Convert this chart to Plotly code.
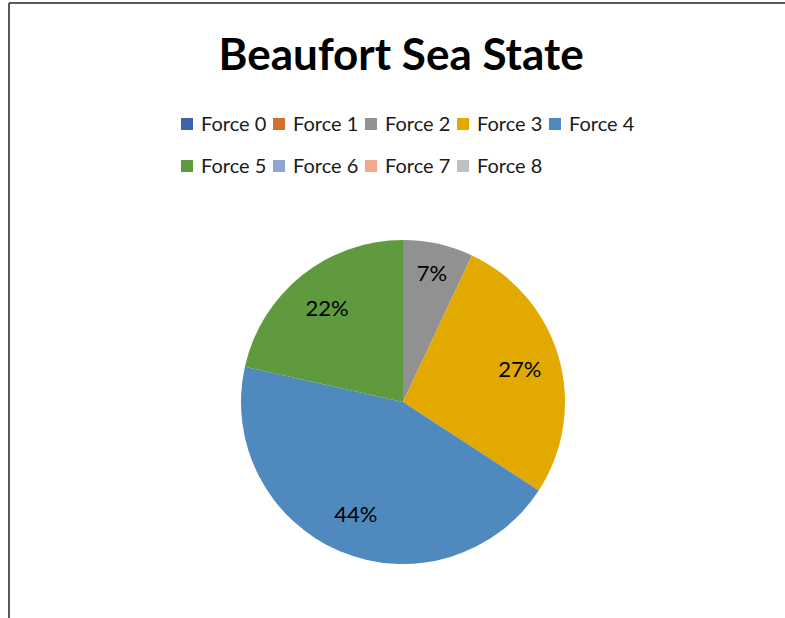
import plotly.graph_objects as go

categories = ["Force 0", "Force 1", "Force 2", "Force 3", "Force 4",
              "Force 5", "Force 6", "Force 7", "Force 8"]
values = [0, 0, 7.0, 27.2, 44.3, 21.5, 0, 0, 0]
colors = ["#3F62A8", "#D3702A", "#919191", "#E2A900", "#4F89BD",
          "#5F9A3E", "#8FA5D6", "#F2A98B", "#BFBFBF"]
title_text = "Beaufort Sea State"
FONT = "Lato"

W, H = 785, 618
cx, cy, R = 403, 402, 162
dom = dict(x=[(cx - R) / W, (cx + R) / W], y=[(H - cy - R) / H, (H - cy + R) / H])

fig = go.Figure()
# coloured slices
fig.add_trace(go.Pie(
    labels=categories, values=values, sort=False, direction="clockwise",
    rotation=0, marker=dict(colors=colors, line=dict(width=0)),
    textinfo="none", showlegend=False, hoverinfo="label+value+percent",
    domain=dom,
))
# percentage labels (transparent ring so labels sit further out)
fig.add_trace(go.Pie(
    labels=categories, values=values, sort=False, direction="clockwise",
    rotation=0, hole=0.5,
    marker=dict(colors=["rgba(0,0,0,0)"] * len(values), line=dict(width=0)),
    texttemplate=["%{percent:.0%}" if v > 0 else "" for v in values],
    textposition="inside", insidetextorientation="horizontal",
    textfont=dict(family=FONT, size=22, color="black"),
    showlegend=False, hoverinfo="skip",
    domain=dom,
))

# legend (two rows, 5 + 4 entries) drawn as squares + labels
per_row = 5
leg_x0, pitch, sq, text_gap = 181, 92, 12, 18
row_y = [124, 166]
shapes = []
annotations = []
for i, name in enumerate(categories):
    r, c = divmod(i, per_row)
    x = leg_x0 + c * pitch
    y = row_y[r]
    shapes.append(dict(type="rect", xref="paper", yref="paper",
                       x0=x / W, x1=(x + sq) / W,
                       y0=1 - (y + sq / 2) / H, y1=1 - (y - sq / 2) / H,
                       fillcolor=colors[i], line=dict(width=0)))
    annotations.append(dict(text=name, xref="paper", yref="paper",
                            x=(x + text_gap) / W, y=1 - (y - 1) / H,
                            xanchor="left", yanchor="middle", showarrow=False,
                            font=dict(family=FONT, size=20, color="#1a1a1a")))

# chart border (top and left)
shapes += [
    dict(type="line", xref="paper", yref="paper", x0=9 / W, x1=1, y0=1 - 3 / H, y1=1 - 3 / H,
         line=dict(color="#595959", width=2)),
    dict(type="line", xref="paper", yref="paper", x0=9 / W, x1=9 / W, y0=0, y1=1 - 3 / H,
         line=dict(color="#595959", width=2)),
]

fig.update_layout(
    width=W, height=H, margin=dict(l=0, r=0, t=0, b=0),
    paper_bgcolor="white", plot_bgcolor="white",
    title=dict(text="<b>" + title_text + "</b>", x=0.511, xanchor="center",
               y=1 - 55 / H, yanchor="middle",
               font=dict(family=FONT, size=44, color="black")),
    xaxis=dict(visible=False), yaxis=dict(visible=False),
    shapes=shapes, annotations=annotations,
)

fig.write_html("out.html")
